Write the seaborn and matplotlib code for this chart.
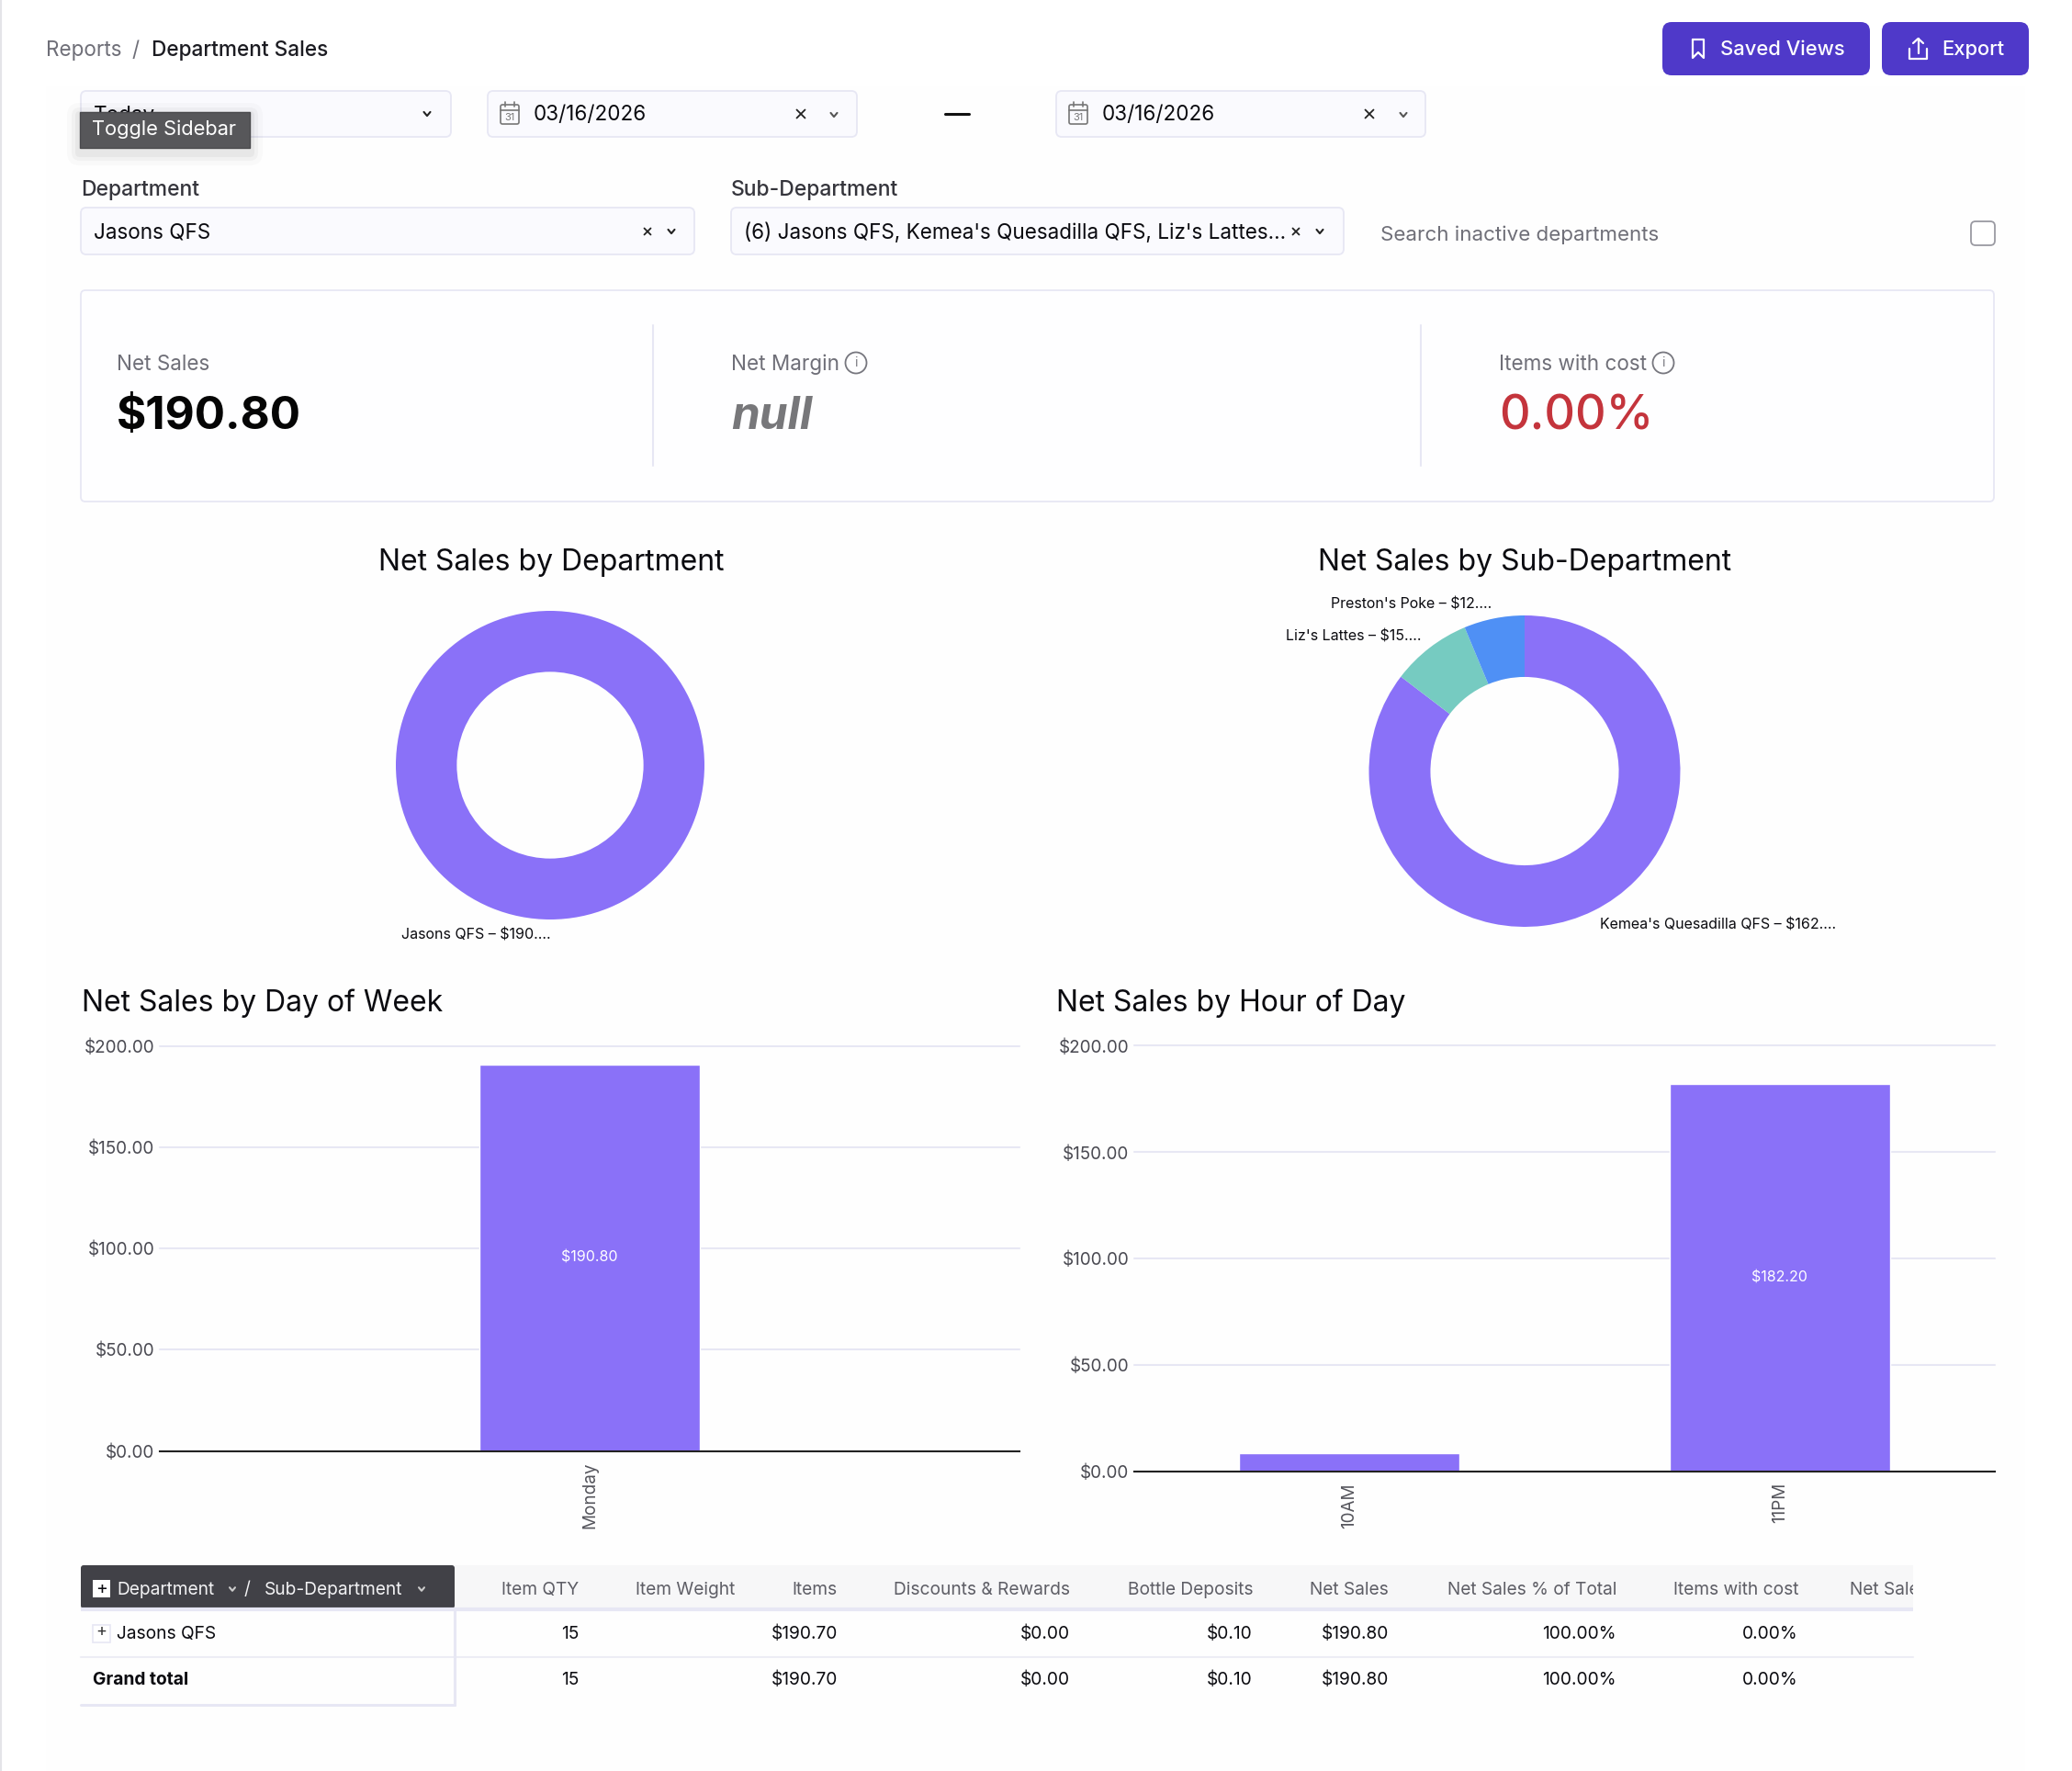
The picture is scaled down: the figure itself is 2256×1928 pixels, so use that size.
"""Department Sales dashboard: donuts, bars and pivot table on a pixel-mapped page."""

import matplotlib

matplotlib.use("Agg")
import matplotlib.pyplot as plt
import pandas as pd
import seaborn as sns
from matplotlib.patches import Circle, FancyBboxPatch, Rectangle
from matplotlib.ticker import FuncFormatter

W, H = 2256, 1928

PURPLE = "#8A71F8"
TEAL = "#76CBC1"
BLUE = "#4F90F5"
INDIGO = "#4F39C9"
INK = "#0B0B10"
GREY = "#6F6F78"
LINE = "#E7E7F4"

dept_names = ["Jasons QFS"]
dept_sales = [190.80]
sub_names = ["Kemea's Quesadilla QFS", "Liz's Lattes", "Preston's Poke"]
sub_sales = [162.90, 15.90, 12.00]
sub_colors = [PURPLE, TEAL, BLUE]

days = ["Monday"]
day_sales = [190.80]
hours = ["10AM", "11PM"]
hour_sales = [8.60, 182.20]
y_ticks = [0, 50, 100, 150, 200]

table_cols = ["Item QTY", "Item Weight", "Items", "Discounts & Rewards", "Bottle Deposits",
              "Net Sales", "Net Sales % of Total", "Items with cost"]
row_jasons = ["15", "", "$190.70", "$0.00", "$0.10", "$190.80", "100.00%", "0.00%"]
row_total = ["15", "", "$190.70", "$0.00", "$0.10", "$190.80", "100.00%", "0.00%"]
col_right = [630, 800, 912, 1165, 1364, 1512, 1760, 1958]

sns.set_theme(style="white")
plt.rcParams["font.family"] = ["Inter", "DejaVu Sans"]

fig = plt.figure(figsize=(W / 100, H / 100), dpi=100, facecolor="#FFFFFF")


def px_axes(left, top, right, bottom, **kw):
    return fig.add_axes([left / W, 1 - bottom / H, (right - left) / W, (bottom - top) / H], **kw)


def page_axes(zorder):
    ax = px_axes(0, 0, W, H)
    ax.set_xlim(0, W)
    ax.set_ylim(H, 0)
    ax.axis("off")
    ax.patch.set_alpha(0)
    ax.set_zorder(zorder)
    return ax


bg = page_axes(-1)
ui = page_axes(5)

SZ = 16.2
SM = 13.8


def txt(x, y, s, size=SZ, color=INK, ha="left", **kw):
    return ui.text(x, y + 4, s, fontsize=size, color=color, ha=ha, va="center", **kw)


def box(x0, y0, x1, y1, fc="#FAFAFE", ec=LINE, r=6, lw=1.3, **kw):
    p = FancyBboxPatch((x0, y0), x1 - x0, y1 - y0, boxstyle=f"round,pad=0,rounding_size={r}",
                       fc=fc, ec=ec, lw=lw, **kw)
    ui.add_patch(p)
    return p


def chevron(x, y, color="#222222", s=3.5):
    ui.plot([x - s, x, x + s], [y - s * 0.6, y + s * 0.6, y - s * 0.6], color=color, lw=1.5)


def cross(x, y, s=4.5):
    ui.plot([x - s, x + s], [y - s, y + s], color="#222222", lw=1.3)
    ui.plot([x - s, x + s], [y + s, y - s], color="#222222", lw=1.3)


def calendar(x, y):
    box(x - 10, y - 10, x + 10, y + 11, fc="none", ec="#777777", r=2, lw=1.2)
    ui.plot([x - 10, x + 10], [y - 4, y - 4], color="#777777", lw=1.2)
    ui.plot([x - 5, x - 5], [y - 13, y - 8], color="#777777", lw=1.2)
    ui.plot([x + 5, x + 5], [y - 13, y - 8], color="#777777", lw=1.2)
    txt(x, y, "31", size=8, color="#777777", ha="center")


def info(x, y):
    ui.add_patch(Circle((x, y), 11.5, fc="none", ec="#77777F", lw=1.3))
    txt(x, y - 4, "i", size=10, color="#77777F", ha="center")


# page background and left edge
bg.add_patch(Rectangle((50, 94), 2155, H - 94, fc="#FEFEFE", ec="none"))
bg.plot([1, 1], [0, H], color="#E4E4E8", lw=1.5)

# breadcrumb and buttons
txt(50, 51, "Reports", color=GREY)
txt(144, 51, "/", color=GREY)
txt(165, 51, "Department Sales", size=16.3, color="#1C1C22", fontweight="medium")
box(1810, 24, 2036, 82, fc=INDIGO, ec="none", r=10)
box(2049, 24, 2209, 82, fc=INDIGO, ec="none", r=10)
txt(1873, 50, "Saved Views", size=15.8, color="white", fontweight="medium")
txt(2114, 50, "Export", size=15.8, color="white", fontweight="medium")
ui.plot([1843, 1843, 1849, 1855, 1855, 1843], [43, 63, 57, 63, 43, 43], color="white", lw=1.6)
ui.plot([2079, 2079, 2098, 2098], [53, 64, 64, 53], color="white", lw=1.6)
ui.plot([2088.5, 2088.5], [42, 58], color="white", lw=1.6)
ui.plot([2083, 2088.5, 2094], [47, 42, 47], color="white", lw=1.6)

# date filters
box(88, 99, 491, 149)
txt(102, 122, "Today")
chevron(465, 124)
box(531, 99, 933, 149)
calendar(555, 124)
txt(581, 121.5, "03/16/2026")
cross(872, 124)
chevron(908, 125, color="#555555")
ui.plot([1029, 1055], [124, 124], color="#111111", lw=2.2)
box(1150, 99, 1552, 149)
calendar(1174, 124)
txt(1200, 121.5, "03/16/2026")
cross(1491, 124)
chevron(1528, 125, color="#555555")

# tooltip over the first filter, hiding most of "Today"
for grow, alpha in [(14, 0.02), (9, 0.03), (5, 0.04)]:
    box(87 - grow, 121 - grow + 5, 272 + grow, 161 + grow + 5, fc="black", ec="none", r=grow,
        alpha=alpha, zorder=3.5)
ui.add_patch(Rectangle((87, 122), 185, 39, fc="#57575A", ec="#4A4A4D", lw=1, zorder=4))
txt(100, 137, "Toggle Sidebar", size=15.7, color="white", zorder=5)

# department filters
txt(88, 202.5, "Department", size=16.5, color="#35353C", fontweight="medium")
txt(796, 202.5, "Sub-Department", size=16.5, color="#35353C", fontweight="medium")
box(88, 226, 756, 277)
txt(102, 249.5, "Jasons QFS")
cross(705, 252, s=3.5)
chevron(731, 252)
box(796, 226, 1463, 277)
txt(810, 249.5, "(6) Jasons QFS, Kemea's Quesadilla QFS, Liz's Lattes...")
cross(1411, 252, s=3.5)
chevron(1437, 252)
txt(1503, 251.5, "Search inactive departments", size=16.1, color=GREY)
box(2146, 241, 2172, 267, fc="white", ec="#9A9AA2", r=5)

# KPI card
box(88, 316, 2171, 546, fc="#FEFEFF", ec=LINE, r=5)
ui.plot([711, 711], [354, 507], color=LINE, lw=1.5)
ui.plot([1547, 1547], [354, 507], color=LINE, lw=1.5)
txt(127, 393, "Net Sales", color=GREY)
txt(127, 450, "$190.80", size=35.6, fontweight="bold", color="#050505")
txt(796, 393, "Net Margin", color=GREY)
info(932, 395)
txt(796, 450, "null", size=35.6, fontweight="bold", color="#77777A", style="italic")
txt(1632, 393, "Items with cost", color=GREY)
info(1811, 395)
txt(1632, 450, "0.00%", size=37.5, fontweight="medium", color="#C4343C")

# chart titles
txt(600, 608, "Net Sales by Department", size=23, ha="center")
txt(1660, 608, "Net Sales by Sub-Department", size=23, ha="center")
txt(89, 1088, "Net Sales by Day of Week", size=23)
txt(1150, 1088, "Net Sales by Hour of Day", size=23)

# donuts
dept_ax = px_axes(599 - 168, 833 - 168, 599 + 168, 833 + 168)
dept_ax.pie(dept_sales, colors=[PURPLE], startangle=90, counterclock=False,
            radius=1, wedgeprops={"width": 0.395, "linewidth": 0})
sub_ax = px_axes(1660 - 169.5, 839.5 - 169.5, 1660 + 169.5, 839.5 + 169.5)
sub_ax.pie(sub_sales, colors=sub_colors, startangle=90, counterclock=False,
           radius=1, wedgeprops={"width": 0.395, "linewidth": 0})
for ax in (dept_ax, sub_ax):
    ax.set_xlim(-1, 1)
    ax.set_ylim(-1, 1)

txt(437, 1014, f"{dept_names[0]} – $190....", size=11.5)
txt(1449, 654, f"{sub_names[2]} – $12....", size=11.5)
txt(1400, 689, f"{sub_names[1]} – $15....", size=11.5)
txt(1742, 1003, f"{sub_names[0]} – $162....", size=11.5)


# bars
def bar_panel(rect, cats, vals, width):
    ax = px_axes(*rect)
    df = pd.DataFrame({"cat": cats, "sales": vals})
    sns.barplot(df, x="cat", y="sales", color=PURPLE, saturation=1, width=width, ax=ax)
    ax.set_xlim(-0.5, len(cats) - 0.5)
    ax.set_ylim(0, 200)
    ax.set_yticks(y_ticks)
    ax.yaxis.set_major_formatter(FuncFormatter(lambda v, _: f"${v:.2f}"))
    ax.grid(axis="y", color=LINE, lw=1.5, clip_on=False)
    ax.set_axisbelow(True)
    ax.patch.set_alpha(0)
    ax.set_xlabel("")
    ax.set_ylabel("")
    sns.despine(ax=ax, left=True)
    ax.spines["bottom"].set_color("#222222")
    ax.spines["bottom"].set_linewidth(1.5)
    ax.tick_params(axis="y", length=0, pad=4, labelsize=13.6, labelcolor="#4A4A52")
    ax.tick_params(axis="x", length=0, pad=9, labelsize=13.6, labelcolor="#55555C", labelrotation=90)
    ax.bar_label(ax.containers[0], labels=[f"${v:.2f}" if v > 20 else "" for v in vals],
                 label_type="center", color="white", fontsize=11.5)
    return ax


bar_panel((174, 1138.5, 1110, 1579.5), days, day_sales, 0.256)
bar_panel((1235, 1138.5, 2172, 1601.5), hours, hour_sales, 0.513)

# table
ui.add_patch(Rectangle((495, 1704), 1588, 47, fc="#F7F7F8", ec="none"))
box(88, 1704, 495, 1751, fc="#414147", ec="none", r=3)
ui.plot([88, 2083], [1752, 1752], color=LINE, lw=3, solid_capstyle="butt")
ui.plot([88, 2083], [1804, 1804], color="#EDEDF5", lw=1.5)
ui.plot([495, 495], [1752, 1856], color=LINE, lw=2.2)
ui.plot([88, 495], [1856, 1856], color=LINE, lw=2.2)

ui.add_patch(Rectangle((101, 1720), 19, 19, fc="white", ec="none"))
txt(110.5, 1725.5, "+", size=14, ha="center")
txt(127, 1727, "Department", size=SM, color="#F2F2F4")
chevron(253, 1730, color="#CCCCCC", s=3)
txt(266, 1727, "/", size=SM, color="#F2F2F4")
txt(288, 1727, "Sub-Department", size=SM, color="#F2F2F4")
chevron(459, 1730, color="#CCCCCC", s=3)

ui.add_patch(Rectangle((101, 1769), 19, 19, fc="white", ec=LINE, lw=1.2))
txt(110.5, 1773, "+", size=13, ha="center", color="#333333")
txt(127, 1775, dept_names[0], size=SM)
txt(101, 1825, "Grand total", size=SM, fontweight="bold")

for name, right, a, b in zip(table_cols, col_right, row_jasons, row_total):
    txt(right, 1727, name, size=SM, color="#5E5E66", ha="right")
    txt(right, 1775, a, size=SM, ha="right")
    txt(right, 1825, b, size=SM, ha="right")

cut = txt(2014, 1727, "Net Sales", size=SM, color="#5E5E66")
cut.set_clip_on(True)
cut.set_clip_path(Rectangle((495, 1700), 1588, 60, transform=ui.transData))

fig.savefig("out.png", dpi=100, facecolor=fig.get_facecolor())
